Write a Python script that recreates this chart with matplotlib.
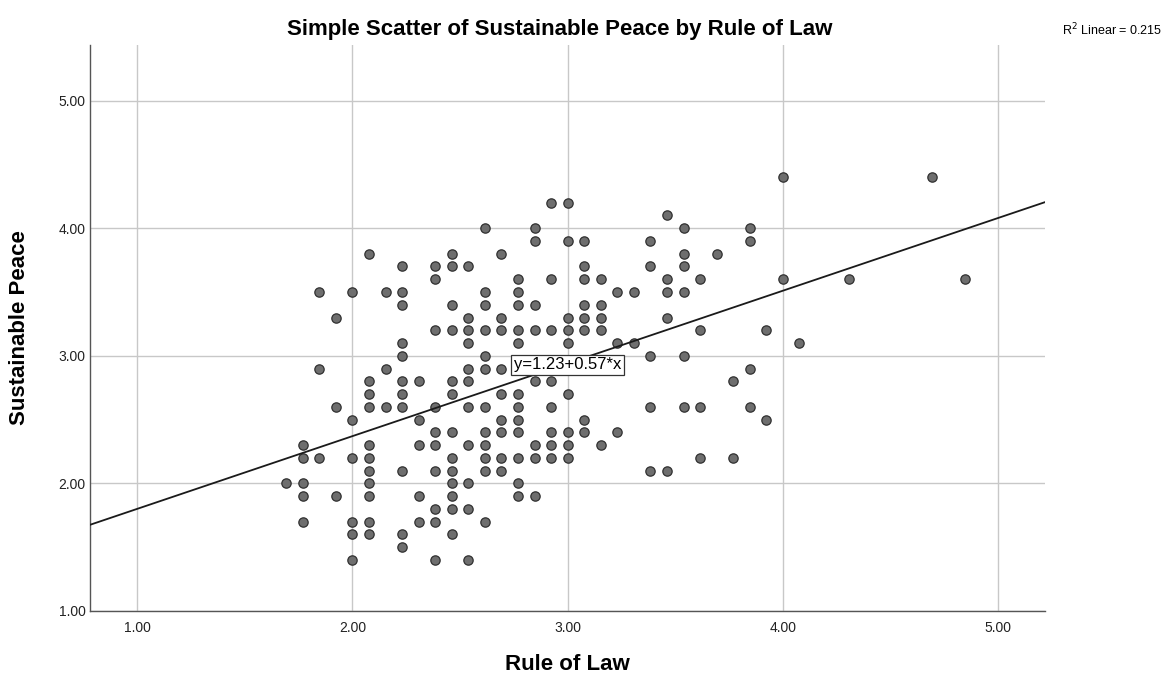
import matplotlib.pyplot as plt
import numpy as np

plt.rcParams['font.family'] = ['Liberation Sans', 'DejaVu Sans']

# Rule of Law scores come in steps of 1/13; keep the step index and the peace values per step
law_steps = [22, 23, 24, 25, 26, 27, 28, 29, 30, 31, 32, 33, 34, 35, 36, 37, 38, 39,
             40, 41, 42, 43, 44, 45, 46, 47, 48, 49, 50, 51, 52, 53, 56, 61, 63]
peace_by_step = [
    [2.0],
    [2.3, 2.2, 2.0, 1.9, 1.7],
    [3.5, 2.9, 2.2],
    [3.3, 2.6, 1.9],
    [3.5, 2.5, 2.2, 1.7, 1.6, 1.4],
    [3.8, 2.8, 2.7, 2.6, 2.3, 2.2, 2.1, 2.0, 1.9, 1.7, 1.6],
    [3.5, 2.9, 2.6],
    [3.7, 3.5, 3.4, 3.1, 3.0, 2.8, 2.7, 2.6, 2.1, 1.6, 1.5],
    [2.8, 2.5, 2.3, 1.9, 1.7],
    [3.7, 3.6, 3.2, 2.6, 2.4, 2.3, 2.1, 1.8, 1.7, 1.4],
    [3.8, 3.7, 3.4, 3.2, 2.8, 2.7, 2.4, 2.2, 2.1, 2.0, 1.9, 1.8, 1.6],
    [3.7, 3.3, 3.2, 3.1, 2.9, 2.8, 2.6, 2.3, 2.0, 1.8, 1.4],
    [4.0, 3.5, 3.4, 3.2, 3.0, 2.9, 2.6, 2.4, 2.3, 2.2, 2.1, 1.7],
    [3.8, 3.3, 3.2, 2.9, 2.7, 2.5, 2.4, 2.2, 2.1],
    [3.6, 3.5, 3.4, 3.2, 3.1, 2.7, 2.6, 2.5, 2.4, 2.2, 2.0, 1.9],
    [4.0, 3.9, 3.4, 3.2, 2.8, 2.3, 2.2, 1.9],
    [4.2, 3.6, 3.2, 2.8, 2.6, 2.4, 2.3, 2.2],
    [4.2, 3.9, 3.3, 3.2, 3.1, 2.7, 2.4, 2.3, 2.2],
    [3.9, 3.7, 3.6, 3.4, 3.3, 3.2, 2.5, 2.4],
    [3.6, 3.4, 3.3, 3.2, 2.3],
    [3.5, 3.1, 2.4],
    [3.5, 3.1],
    [3.9, 3.7, 3.0, 2.6, 2.1],
    [4.1, 3.6, 3.5, 3.3, 2.1],
    [4.0, 3.8, 3.7, 3.5, 3.0, 2.6],
    [3.6, 3.2, 2.6, 2.2],
    [3.8],
    [2.8, 2.2],
    [4.0, 3.9, 2.9, 2.6],
    [3.2, 2.5],
    [4.4, 3.6],
    [3.1],
    [3.6],
    [4.4],
    [3.6],
]

intercept = 1.23
slope = 0.57
r_squared = 0.215
x_ticks = [1.0, 2.0, 3.0, 4.0, 5.0]
y_ticks = [1.0, 2.0, 3.0, 4.0, 5.0]

# flatten to x/y arrays
rule_of_law = []
peace = []
for step, vals in zip(law_steps, peace_by_step):
    for v in vals:
        rule_of_law.append(step / 13)
        peace.append(v)

fig = plt.figure(figsize=(11.68, 6.75), dpi=100)
ax = fig.add_axes([0.077, 0.095, 0.818, 0.839])

xmin, xmax = 0.78, 5.22
ax.set_xlim(xmin, xmax)
ax.set_ylim(1.0, 5.44)

ax.grid(True, color='#c8c8c8', linewidth=1.0)
ax.set_axisbelow(True)

ax.scatter(rule_of_law, peace, s=45, c='#6e6e6e', edgecolors='#303030',
           linewidths=0.9, zorder=3)

line_x = np.array([xmin, xmax])
ax.plot(line_x, intercept + slope * line_x, color='#1a1a1a', linewidth=1.3, zorder=4)

ax.text(3.0, 2.93, f'y={intercept:.2f}+{slope:.2f}*x', fontsize=12, ha='center', va='center',
        bbox=dict(boxstyle='square,pad=0.15', facecolor='white', edgecolor='#333333', linewidth=0.9),
        zorder=5)

ax.set_xticks(x_ticks)
ax.set_yticks(y_ticks)
ax.set_xticklabels([f'{t:.2f}' for t in x_ticks], fontsize=10, color='#222222')
ax.set_yticklabels([f'{t:.2f}' for t in y_ticks], fontsize=10, color='#222222')
ax.tick_params(axis='x', length=0, pad=7)
ax.tick_params(axis='y', length=0, pad=3)

for side in ['top', 'right']:
    ax.spines[side].set_visible(False)
for side in ['left', 'bottom']:
    ax.spines[side].set_color('#555555')
    ax.spines[side].set_linewidth(1.0)

ax.set_xlabel('Rule of Law', fontsize=16, fontweight='bold')
ax.xaxis.set_label_coords(0.5, -0.076)
ax.set_ylabel('Sustainable Peace', fontsize=16, fontweight='bold')
ax.yaxis.set_label_coords(-0.063, 0.5)
ax.set_title('Simple Scatter of Sustainable Peace by Rule of Law', fontsize=16,
             fontweight='bold', pad=7, x=0.492)

fig.text(0.909, 0.955, f'R$^2$ Linear = {r_squared:.3f}', fontsize=9, ha='left', va='center')

fig.savefig('out.png', dpi=100)
